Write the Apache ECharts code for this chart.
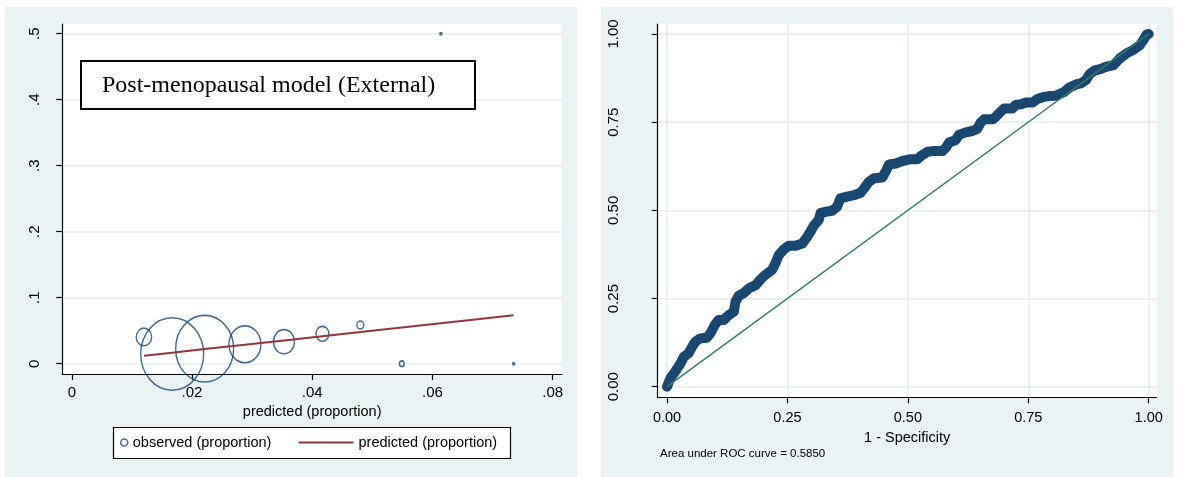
<!DOCTYPE html>
<html>
<head>
<meta charset="utf-8">
<title>Calibration and ROC</title>
<script src="https://cdn.jsdelivr.net/npm/echarts@6/dist/echarts.min.js"></script>
<style>
  html, body { margin: 0; padding: 0; background: #ffffff; }
  #chart { width: 1181px; height: 477px; }
</style>
</head>
<body>
<div id="chart"></div>
<script>
// ---- calibration plot: risk groups ----
const predictedTicks = [0, 0.02, 0.04, 0.06, 0.08];
const observedTicks = [0, 0.1, 0.2, 0.3, 0.4, 0.5];
// mean predicted risk per group
const groupPredicted = [0.0120, 0.0167, 0.0221, 0.0288, 0.0353, 0.0417, 0.0480, 0.0549, 0.0614, 0.0735];
// observed proportion per group
const groupObserved = [0.0405, 0.0147, 0.0227, 0.0294, 0.0333, 0.0453, 0.0586, 0.0, 0.5, 0.0];
// number of women per group (bubble weight)
const groupCount = [59, 990, 840, 256, 110, 42, 12, 6, 1, 1];

// ---- ROC curve ----
const rocTicks = [0, 0.25, 0.5, 0.75, 1];
const rocFpr = [0.000, 0.007, 0.017, 0.028, 0.035, 0.045, 0.052, 0.059, 0.069, 0.083, 0.090, 0.100, 0.107, 0.118, 0.128,
  0.139, 0.142, 0.149, 0.159, 0.170, 0.184, 0.194, 0.204, 0.218, 0.225, 0.232, 0.243, 0.253, 0.267, 0.281,
  0.291, 0.298, 0.305, 0.315, 0.319, 0.329, 0.343, 0.353, 0.360, 0.374, 0.388, 0.402, 0.409, 0.419, 0.430,
  0.447, 0.454, 0.461, 0.475, 0.489, 0.506, 0.520, 0.527, 0.541, 0.551, 0.572, 0.579, 0.586, 0.599, 0.606,
  0.620, 0.634, 0.644, 0.651, 0.658, 0.676, 0.683, 0.693, 0.700, 0.717, 0.724, 0.735, 0.745, 0.759, 0.769,
  0.780, 0.793, 0.807, 0.818, 0.825, 0.835, 0.849, 0.859, 0.870, 0.877, 0.887, 0.901, 0.911, 0.927, 0.940,
  0.954, 0.968, 0.982, 0.989, 0.996, 1.000];
const rocTpr = [0.000, 0.024, 0.043, 0.066, 0.085, 0.095, 0.113, 0.128, 0.137, 0.139, 0.151, 0.177, 0.189, 0.189, 0.203,
  0.213, 0.241, 0.258, 0.265, 0.279, 0.288, 0.304, 0.317, 0.331, 0.350, 0.373, 0.390, 0.400, 0.400, 0.406,
  0.425, 0.440, 0.457, 0.473, 0.493, 0.496, 0.499, 0.510, 0.534, 0.539, 0.543, 0.550, 0.562, 0.581, 0.591,
  0.593, 0.610, 0.630, 0.633, 0.640, 0.645, 0.645, 0.654, 0.666, 0.668, 0.668, 0.678, 0.693, 0.699, 0.714,
  0.721, 0.725, 0.731, 0.749, 0.758, 0.758, 0.766, 0.780, 0.789, 0.789, 0.799, 0.801, 0.806, 0.806, 0.816,
  0.821, 0.824, 0.825, 0.832, 0.836, 0.848, 0.857, 0.860, 0.870, 0.886, 0.896, 0.901, 0.907, 0.912, 0.931,
  0.945, 0.955, 0.969, 0.983, 0.999, 1.000];
const aucText = 'Area under ROC curve = 0.5850';

const SANS = '"Liberation Sans", Arial, sans-serif';
const SERIF = '"Liberation Serif", "Times New Roman", serif';
const NAVY = '#1a476f';
const MAROON = '#90353b';
const TEAL = '#3b7b6b';
const PANEL = '#eaf2f3';
const GRID = '#e4eced';

function stripZero(v) {
  if (v === 0) return '0';
  return String(+v.toFixed(3)).replace(/^0\./, '.');
}

function bubbleSize(v) {
  const d = Math.max(2, 2 * Math.sqrt(v[2]));
  return [d, d * 1.15];
}

const chart = echarts.init(document.getElementById('chart'), null, { renderer: 'canvas' });

const axisLineStyle = { show: true, onZero: false, lineStyle: { color: '#000', width: 1.2 } };
const tickStyle = { show: true, length: 6, lineStyle: { color: '#000', width: 1.2 } };

const option = {
  animation: false,
  backgroundColor: '#ffffff',
  textStyle: { fontFamily: SANS, color: '#000' },
  graphic: [
    { type: 'rect', z: -10, silent: true, shape: { x: 5, y: 7, width: 572, height: 470 }, style: { fill: PANEL } },
    { type: 'rect', z: -10, silent: true, shape: { x: 601, y: 7, width: 572, height: 470 }, style: { fill: PANEL } },
    {
      type: 'group', z: 100,
      children: [
        { type: 'rect', z: 100, shape: { x: 81, y: 61, width: 394, height: 48 }, style: { fill: '#fff', stroke: '#000', lineWidth: 2 } },
        { type: 'text', z: 101, x: 102, y: 86, style: { text: 'Post-menopausal model (External)', font: '24px ' + SERIF, fill: '#000', textVerticalAlign: 'middle' } }
      ]
    },
    { type: 'rect', z: 3, silent: true, shape: { x: 113.5, y: 427.5, width: 397, height: 31 }, style: { fill: '#fff', stroke: '#000', lineWidth: 1.2 } },
    { type: 'text', z: 5, x: 660, y: 454, style: { text: aucText, font: '11.5px ' + SANS, fill: '#000', textVerticalAlign: 'middle' } }
  ],
  legend: [
    {
      left: 120, top: 435, padding: 0, itemWidth: 7, itemHeight: 7,
      textStyle: { fontSize: 14.5, fontFamily: SANS, color: '#000' },
      data: [{ name: 'observed (proportion)', icon: 'circle', itemStyle: { color: 'rgba(0,0,0,0)', borderColor: NAVY, borderWidth: 1.5 } }]
    },
    {
      left: 298.5, top: 435, padding: 0, itemWidth: 55, itemHeight: 2,
      textStyle: { fontSize: 14.5, fontFamily: SANS, color: '#000' },
      data: [{ name: 'predicted (proportion)', icon: 'rect', itemStyle: { color: MAROON, borderWidth: 0 } }]
    }
  ],
  grid: [
    { left: 62.3, top: 24, width: 499.7, height: 350, show: true, backgroundColor: '#fff', borderWidth: 0 },
    { left: 657.7, top: 24, width: 499, height: 373.3, show: true, backgroundColor: '#fff', borderWidth: 0 }
  ],
  xAxis: [
    {
      gridIndex: 0, type: 'value', min: -0.00158, max: 0.08155,
      name: 'predicted (proportion)', nameLocation: 'middle', nameGap: 36,
      nameTextStyle: { fontSize: 14.5, fontFamily: SANS, color: '#000', verticalAlign: 'middle' },
      axisLine: axisLineStyle,
      axisTick: Object.assign({ customValues: predictedTicks }, tickStyle),
      axisLabel: { customValues: predictedTicks, formatter: stripZero, fontSize: 15, color: '#000', margin: 11 },
      splitLine: { show: false }
    },
    {
      gridIndex: 1, type: 'value', min: -0.0193, max: 1.0166,
      name: '1 - Specificity', nameLocation: 'middle', nameGap: 36,
      nameTextStyle: { fontSize: 14.5, fontFamily: SANS, color: '#000', verticalAlign: 'middle' },
      axisLine: axisLineStyle,
      axisTick: Object.assign({ customValues: rocTicks }, tickStyle),
      axisLabel: { customValues: rocTicks, formatter: v => v.toFixed(2), fontSize: 14.5, color: '#000', margin: 13 },
      splitLine: { show: true, lineStyle: { color: GRID, width: 1.5 } }
    }
  ],
  yAxis: [
    {
      gridIndex: 0, type: 'value', min: -0.0156, max: 0.5147,
      axisLine: axisLineStyle,
      axisTick: Object.assign({ customValues: observedTicks }, tickStyle),
      axisLabel: { customValues: observedTicks, formatter: stripZero, fontSize: 15, color: '#000', rotate: 90, margin: 20 },
      splitLine: { show: true, lineStyle: { color: GRID, width: 1.5 } }
    },
    {
      gridIndex: 1, type: 'value', min: -0.030, max: 1.0284,
      axisLine: axisLineStyle,
      axisTick: Object.assign({ customValues: rocTicks }, tickStyle),
      axisLabel: { customValues: rocTicks, formatter: v => v.toFixed(2), fontSize: 15, color: '#000', rotate: 90, margin: 36 },
      splitLine: { show: true, lineStyle: { color: GRID, width: 1.5 } }
    }
  ],
  series: [
    {
      name: 'observed (proportion)', type: 'scatter', xAxisIndex: 0, yAxisIndex: 0,
      symbol: 'circle', symbolSize: bubbleSize,
      itemStyle: { color: 'rgba(0,0,0,0)', borderColor: NAVY, borderWidth: 1.5 },
      data: groupPredicted.map((p, i) => [p, groupObserved[i], groupCount[i]]),
      z: 3
    },
    {
      name: 'predicted (proportion)', type: 'line', xAxisIndex: 0, yAxisIndex: 0,
      symbol: 'none', showSymbol: false, lineStyle: { color: MAROON, width: 2 }, itemStyle: { color: MAROON },
      data: groupPredicted.slice().sort((a, b) => a - b).map(p => [p, p]),
      z: 4
    },
    {
      name: 'roc', type: 'line', xAxisIndex: 1, yAxisIndex: 1,
      symbol: 'none', lineStyle: { color: NAVY, width: 10, cap: 'round', join: 'round' },
      data: rocFpr.map((x, i) => [x, rocTpr[i]]),
      z: 3
    },
    {
      name: 'reference', type: 'line', xAxisIndex: 1, yAxisIndex: 1,
      symbol: 'none', lineStyle: { color: TEAL, width: 1.5 },
      data: [[0, 0], [1, 1]],
      z: 4
    }
  ]
};

chart.setOption(option);
</script>
</body>
</html>
